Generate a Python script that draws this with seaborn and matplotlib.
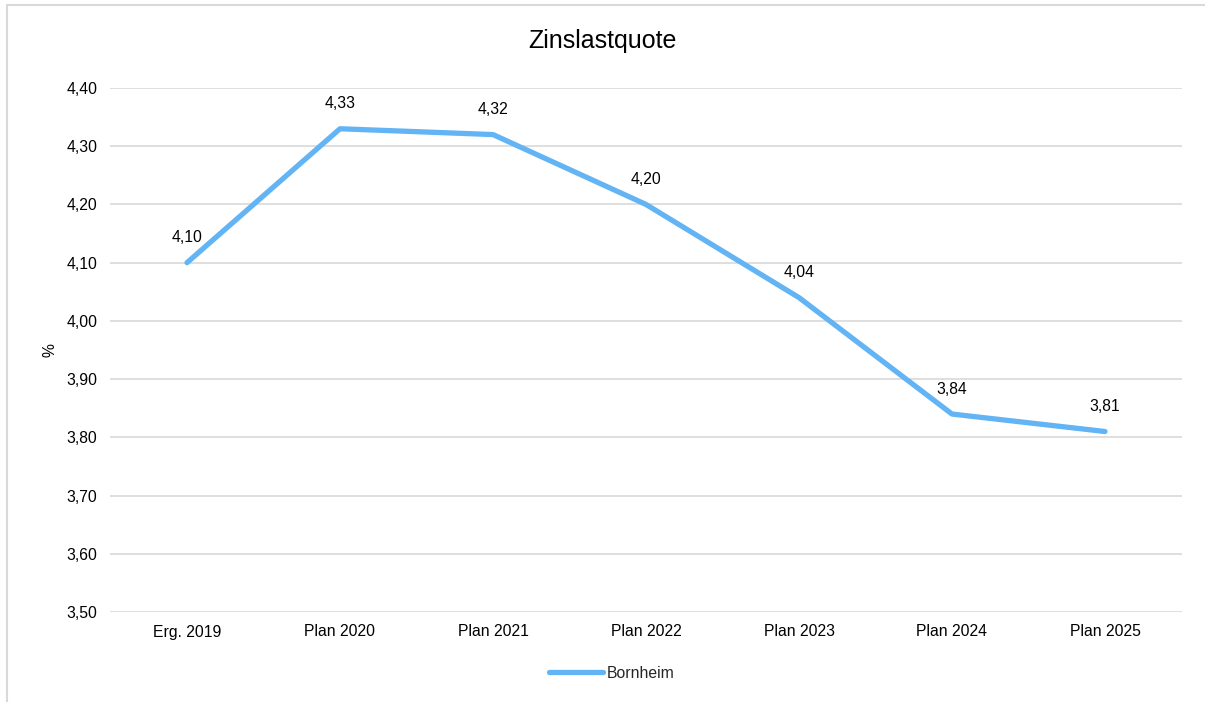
"""Zinslastquote line chart (Bornheim)."""

import matplotlib.pyplot as plt
import pandas as pd
import seaborn as sns
from matplotlib.patches import Rectangle

categories = ['Erg. 2019', 'Plan 2020', 'Plan 2021', 'Plan 2022',
              'Plan 2023', 'Plan 2024', 'Plan 2025']
bornheim = [4.10, 4.33, 4.32, 4.20, 4.04, 3.84, 3.81]
y_ticks = [3.50, 3.60, 3.70, 3.80, 3.90, 4.00, 4.10, 4.20, 4.30, 4.40]

LINE_COLOR = '#63B4F4'
GRID_COLOR = '#D9D9D9'
FS = 11.3


def de_fmt(v: float) -> str:
    return f"{v:.2f}".replace('.', ',')


def main() -> None:
    sns.set_theme(style='white')
    plt.rcParams['font.family'] = ['Liberation Sans', 'DejaVu Sans']

    df = pd.DataFrame({'Kategorie': categories, 'Wert': bornheim})

    fig = plt.figure(figsize=(12.05, 7.02), dpi=100)
    ax = fig.add_axes([110.5 / 1205, 1 - 612 / 702,
                       1071 / 1205, 524 / 702])

    # outer chart frame (cut off at right / bottom)
    fig.patches.append(Rectangle((7 / 1205, -0.1), 1.2, 1 - 5 / 702 + 0.1,
                                 transform=fig.transFigure, fill=False,
                                 edgecolor=GRID_COLOR, linewidth=1.5))

    sns.lineplot(data=df, x='Kategorie', y='Wert', ax=ax, color=LINE_COLOR,
                 linewidth=3.8, solid_capstyle='round', label='Bornheim',
                 sort=False)

    for i, v in enumerate(bornheim):
        ax.annotate(de_fmt(v), (i, v), xytext=(0, 18), textcoords='offset points',
                    ha='center', va='center', fontsize=FS, color='#000000')

    ax.set_xlim(-0.5, len(categories) - 0.5)
    ax.set_ylim(3.50, 4.40)
    ax.set_yticks(y_ticks)
    ax.set_yticklabels([de_fmt(v) for v in y_ticks])
    ax.yaxis.grid(True, color=GRID_COLOR, linewidth=1.2)
    ax.set_axisbelow(True)
    for s in ax.spines.values():
        s.set_visible(False)
    ax.tick_params(axis='both', length=0, labelsize=FS, colors='#000000')
    ax.tick_params(axis='y', pad=9.5)
    ax.tick_params(axis='x', pad=9)

    ax.set_xlabel('')
    ax.set_ylabel('%', fontsize=FS, color='#000000', labelpad=6)
    fig.text(0.5, 1 - 48 / 702, 'Zinslastquote', ha='center', va='baseline',
             fontsize=18, color='#000000')

    ax.legend(loc='center', bbox_to_anchor=(612 / 1205, 1 - 673 / 702),
              bbox_transform=fig.transFigure, frameon=False, fontsize=FS,
              handlelength=3.4, handletextpad=0.25)

    fig.savefig('out.png', dpi=100)


if __name__ == "__main__":
    main()
